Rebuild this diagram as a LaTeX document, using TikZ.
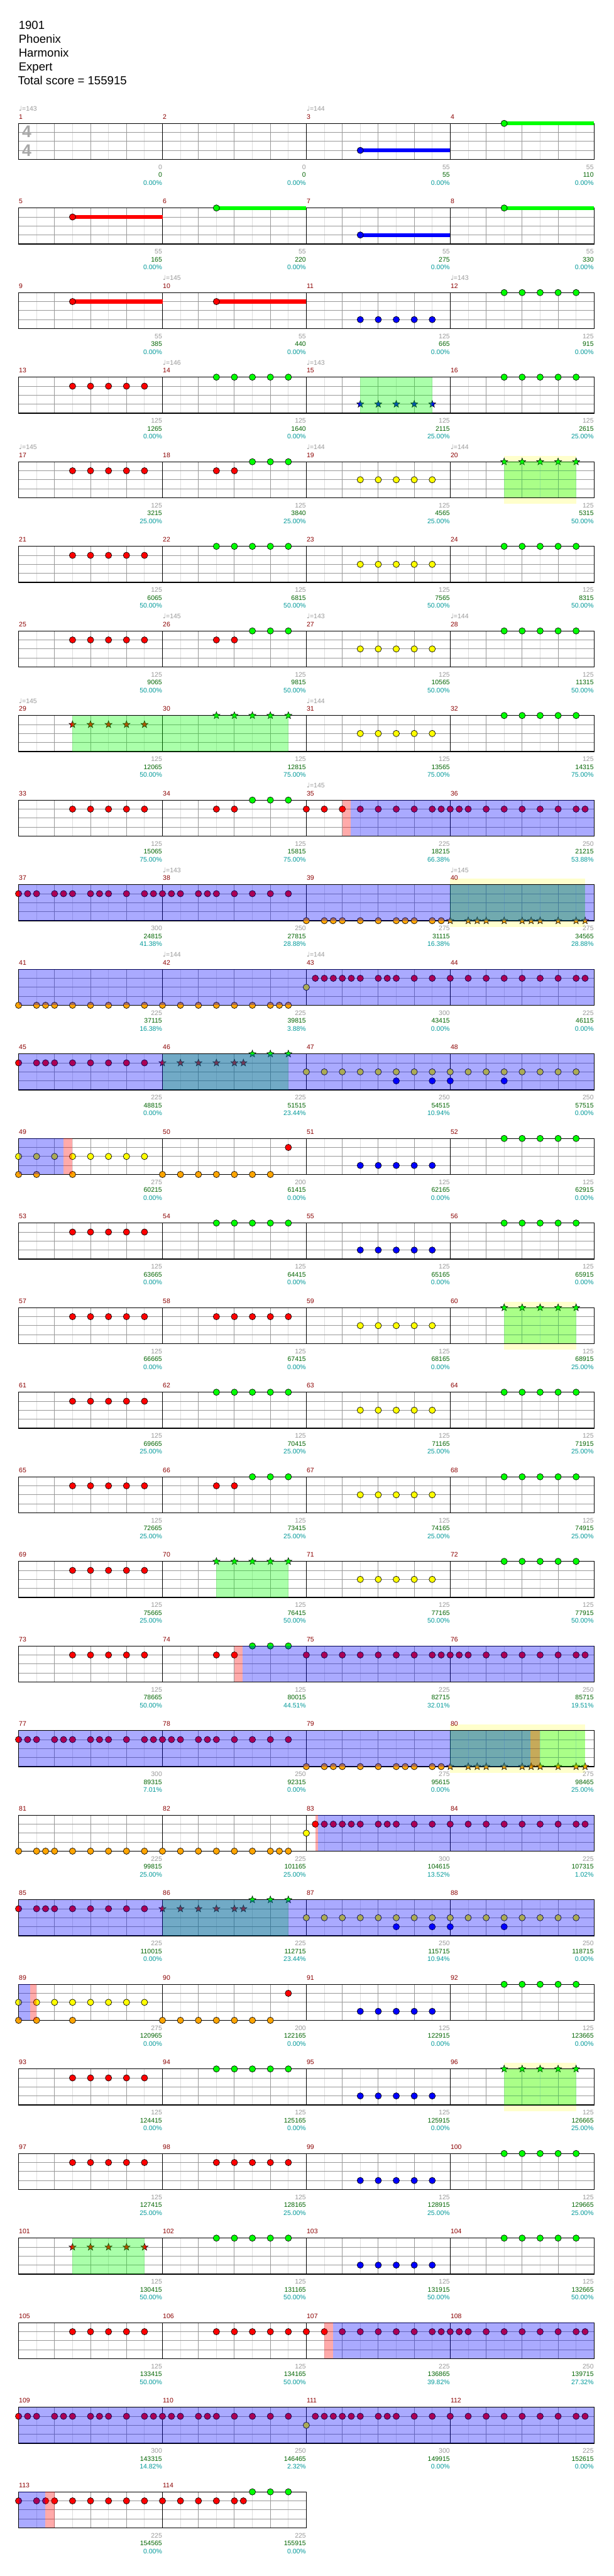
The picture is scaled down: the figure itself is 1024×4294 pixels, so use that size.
\documentclass[tikz,border=0pt]{standalone}
\usepackage{fontspec}
\setmainfont{Liberation Sans}
\newfontfamily\dejavu{DejaVu Sans}
\usetikzlibrary{shapes.geometric}
\definecolor{cG}{HTML}{00FF00}
\definecolor{cR}{HTML}{FF0000}
\definecolor{cY}{HTML}{FFFF00}
\definecolor{cB}{HTML}{0000FF}
\definecolor{cK}{HTML}{FFA500}
\definecolor{mnum}{HTML}{8B0000}
\definecolor{gtxt}{HTML}{999999}
\definecolor{sgreen}{HTML}{006400}
\definecolor{steal}{HTML}{009999}
\definecolor{gridq}{HTML}{999999}
\definecolor{gride}{HTML}{DDDDDD}
\definecolor{ybg}{HTML}{FFFFCC}
\definecolor{tsig}{HTML}{A8A8A8}
\tikzset{
  notec/.style={draw=black,line width=0.7pt},
  starn/.style={star,star points=5,star point ratio=2.4,minimum size=12.5pt,inner sep=0pt,draw=black,line width=0.6pt},
  smalltxt/.style={font=\fontsize{11}{12}\selectfont,inner sep=0pt},
  titletxt/.style={font=\fontsize{19.5}{21}\selectfont,inner sep=0pt,anchor=base west}
}
\newcommand\mPos[1]{%
  \pgfmathtruncatemacro\mRr{(#1-1)/4}%
  \pgfmathtruncatemacro\mCc{#1-1-4*\mRr}%
  \pgfmathsetmacro\mX{31+240*\mCc}%
  \pgfmathsetmacro\mY{205.7+141*\mRr}}
\newcommand\Nts[4]{\mPos{#1}\edef\ntsL{#4}%
  \foreach \p in \ntsL {\draw[notec,fill=#3] (\mX+15*\p,\mY+#2) circle[radius=5.3pt];}}
\newcommand\Sts[4]{\mPos{#1}\edef\ntsL{#4}%
  \foreach \p in \ntsL {\node[starn,fill=#3] at (\mX+15*\p,\mY+#2) {};}}
\newcommand\Sus[4]{\mPos{#1}%
  \fill[#3] (\mX+15*#4,\mY+#2-3.2) rectangle (\mX+240,\mY+#2+3.2);
  \draw[notec,fill=#3] (\mX+15*#4,\mY+#2) circle[radius=5.3pt];}
\newcommand\Reg[4]{\mPos{#2}\fill[#1,fill opacity=0.3333] (\mX+15*#3,\mY) rectangle (\mX+15*#4,\mY+60);}
\newcommand\Ybox[3]{\mPos{#1}\fill[ybg] (\mX+15*#2,\mY-10) rectangle (\mX+15*#3,\mY+70.5);}
\newcommand\StaffRow[2]{%
  \pgfmathsetmacro\sY{205.7+141*#1}%
  \pgfmathtruncatemacro\nK{8*#2-1}%
  \pgfmathsetmacro\xE{31+240*#2}%
  \foreach \k in {1,3,...,\nK}{\draw[gride,line width=1pt] (31+30*\k,\sY) -- (31+30*\k,\sY+60);}
  \foreach \yy in {15,30,45}{\draw[gridq,line width=1pt] (31,\sY+\yy) -- (\xE,\sY+\yy);}
  \foreach \k in {2,4,...,\nK}{\pgfmathtruncatemacro\km{mod(\k,8)}%
    \ifnum\km=0 \draw[black,line width=1pt] (31+30*\k,\sY) -- (31+30*\k,\sY+60);%
    \else \draw[gridq,line width=1pt] (31+30*\k,\sY) -- (31+30*\k,\sY+60);\fi}
  \draw[black,line width=1.2pt] (31,\sY) rectangle (\xE,\sY+60);}
\newcommand\Scr[4]{\mPos{#1}%
  \node[smalltxt,text=gtxt,anchor=east] at (\mX+239.5,\mY+73) {#2};
  \node[smalltxt,text=sgreen,anchor=east] at (\mX+239.5,\mY+86) {#3};
  \node[smalltxt,text=steal,anchor=east] at (\mX+239.5,\mY+99) {#4\%};}
\newcommand\Tempo[2]{\mPos{#1}%
  \node[smalltxt,text=gtxt,anchor=west] at (\mX+0.5,\mY-24.5) {{\dejavu ♩}=#2};}
\def\V{6,8,10,12,14}
\def\pA{0,1,2,4,5,6,8,9,10,12,14,15}
\def\pB{0,1,2,4,5,6,8,10,12,14}
\def\pC{0,2,3,4,6,8,10,11,12,14,15}
\def\pD{0,2,3,4,6,8,9,10,12,14,15}
\def\pE{0,2,3,4,6,8,10,12,14}
\def\pF{0,2,4,6,8,10,12,13,14}
\def\pG{1,2,3,4,5,6,8,9,10,12,14}
\def\pH{0,2,4,6,8,10,12,14,15}
\def\pI{0,1,2,4,6,8,10,12,14,15}
\def\pY{0,2,4,6,8,10,12,14}
\begin{document}
\begin{tikzpicture}[x=1pt,y=-1pt]
\useasboundingbox (0,0) rectangle (1024,4294);
\fill[white] (0,0) rectangle (1024,4294);
% title
\node[titletxt] (t1) at (31,49) {1901};
\node[titletxt] (t2) at (31,72) {Phoenix};
\node[titletxt] (t3) at (31,95) {Harmonix};
\node[titletxt] (t4) at (31,118) {Expert};
\node[titletxt] (t5) at (29.7,141) {Total score = 155915};
% solo boxes
\Ybox{20}{6}{14} \Ybox{40}{0}{15} \Ybox{60}{6}{14} \Ybox{80}{0}{15} \Ybox{96}{6}{14}
% staves
\foreach \r in {0,...,27}{\StaffRow{\r}{4}}
\StaffRow{28}{2}
% time signature
\node[font=\bfseries\fontsize{28}{28}\selectfont,text=tsig,inner sep=0pt] (ts1) at (44.5,219.7) {4};
\node[font=\bfseries\fontsize{28}{28}\selectfont,text=tsig,inner sep=0pt] (ts2) at (44.5,250.5) {4};
% sustains
\Sus{3}{45}{cB}{6} \Sus{4}{0}{cG}{6} \Sus{5}{15}{cR}{6} \Sus{6}{0}{cG}{6}
\Sus{7}{45}{cB}{6} \Sus{8}{0}{cG}{6} \Sus{9}{15}{cR}{6} \Sus{10}{15}{cR}{6}
% notes
\Nts{11}{45}{cB}{\V} \Nts{12}{0}{cG}{\V}
\Nts{13}{15}{cR}{\V} \Nts{14}{0}{cG}{\V} \Sts{15}{45}{cB}{\V} \Nts{16}{0}{cG}{\V}
\Nts{17}{15}{cR}{\V} \Nts{18}{15}{cR}{6,8} \Nts{18}{0}{cG}{10,12,14} \Nts{19}{30}{cY}{\V} \Sts{20}{0}{cG}{\V}
\Nts{21}{15}{cR}{\V} \Nts{22}{0}{cG}{\V} \Nts{23}{30}{cY}{\V} \Nts{24}{0}{cG}{\V}
\Nts{25}{15}{cR}{\V} \Nts{26}{15}{cR}{6,8} \Nts{26}{0}{cG}{10,12,14} \Nts{27}{30}{cY}{\V} \Nts{28}{0}{cG}{\V}
\Sts{29}{15}{cR}{\V} \Sts{30}{0}{cG}{\V} \Nts{31}{30}{cY}{\V} \Nts{32}{0}{cG}{\V}
\Nts{33}{15}{cR}{\V} \Nts{34}{15}{cR}{6,8} \Nts{34}{0}{cG}{10,12,14} \Nts{35}{15}{cR}{\pH} \Nts{36}{15}{cR}{\pI}
\Nts{37}{15}{cR}{\pA} \Nts{38}{15}{cR}{\pB} \Nts{39}{60}{cK}{\pC} \Sts{40}{60}{cK}{\pD}
\Nts{41}{60}{cK}{\pE} \Nts{42}{60}{cK}{\pF} \Nts{43}{30}{cY}{0} \Nts{43}{15}{cR}{\pG} \Nts{44}{15}{cR}{\pH}
\Nts{45}{15}{cR}{\pE} \Sts{46}{15}{cR}{0,2,4,6,8,9} \Sts{46}{0}{cG}{10,12,14}
\Nts{47}{30}{cY}{\pY} \Nts{47}{45}{cB}{10,14} \Nts{48}{30}{cY}{\pY} \Nts{48}{45}{cB}{0,6}
\Nts{49}{30}{cY}{\pY} \Nts{49}{60}{cK}{0,2,6} \Nts{50}{60}{cK}{0,2,4,6,8,10,12} \Nts{50}{15}{cR}{14} \Nts{51}{45}{cB}{\V} \Nts{52}{0}{cG}{\V}
\Nts{53}{15}{cR}{\V} \Nts{54}{0}{cG}{\V} \Nts{55}{45}{cB}{\V} \Nts{56}{0}{cG}{\V}
\Nts{57}{15}{cR}{\V} \Nts{58}{15}{cR}{\V} \Nts{59}{30}{cY}{\V} \Sts{60}{0}{cG}{\V}
\Nts{61}{15}{cR}{\V} \Nts{62}{0}{cG}{\V} \Nts{63}{30}{cY}{\V} \Nts{64}{0}{cG}{\V}
\Nts{65}{15}{cR}{\V} \Nts{66}{15}{cR}{6,8} \Nts{66}{0}{cG}{10,12,14} \Nts{67}{30}{cY}{\V} \Nts{68}{0}{cG}{\V}
\Nts{69}{15}{cR}{\V} \Sts{70}{0}{cG}{\V} \Nts{71}{30}{cY}{\V} \Nts{72}{0}{cG}{\V}
\Nts{73}{15}{cR}{\V} \Nts{74}{15}{cR}{6,8} \Nts{74}{0}{cG}{10,12,14} \Nts{75}{15}{cR}{\pH} \Nts{76}{15}{cR}{\pI}
\Nts{77}{15}{cR}{\pA} \Nts{78}{15}{cR}{\pB} \Nts{79}{60}{cK}{\pC} \Sts{80}{60}{cK}{\pD}
\Nts{81}{60}{cK}{\pE} \Nts{82}{60}{cK}{\pF} \Nts{83}{30}{cY}{0} \Nts{83}{15}{cR}{\pG} \Nts{84}{15}{cR}{\pH}
\Nts{85}{15}{cR}{\pE} \Sts{86}{15}{cR}{0,2,4,6,8,9} \Sts{86}{0}{cG}{10,12,14}
\Nts{87}{30}{cY}{\pY} \Nts{87}{45}{cB}{10,14} \Nts{88}{30}{cY}{\pY} \Nts{88}{45}{cB}{0,6}
\Nts{89}{30}{cY}{\pY} \Nts{89}{60}{cK}{0,2,6} \Nts{90}{60}{cK}{0,2,4,6,8,10,12} \Nts{90}{15}{cR}{14} \Nts{91}{45}{cB}{\V} \Nts{92}{0}{cG}{\V}
\Nts{93}{15}{cR}{\V} \Nts{94}{0}{cG}{\V} \Nts{95}{45}{cB}{\V} \Sts{96}{0}{cG}{\V}
\Nts{97}{15}{cR}{\V} \Nts{98}{15}{cR}{\V} \Nts{99}{45}{cB}{\V} \Nts{100}{0}{cG}{\V}
\Sts{101}{15}{cR}{\V} \Nts{102}{0}{cG}{\V} \Nts{103}{45}{cB}{\V} \Nts{104}{0}{cG}{\V}
\Nts{105}{15}{cR}{\V} \Nts{106}{15}{cR}{\V} \Nts{107}{15}{cR}{\pH} \Nts{108}{15}{cR}{\pI}
\Nts{109}{15}{cR}{\pA} \Nts{110}{15}{cR}{\pB} \Nts{111}{30}{cY}{0} \Nts{111}{15}{cR}{\pG} \Nts{112}{15}{cR}{\pH}
\Nts{113}{15}{cR}{\pE} \Nts{114}{15}{cR}{0,2,4,6,8,9} \Nts{114}{0}{cG}{10,12,14}
% overdrive phrases
\Reg{cG}{15}{6}{14} \Reg{cG}{20}{6}{14} \Reg{cG}{29}{6}{30} \Reg{cG}{40}{0}{15} \Reg{cG}{46}{0}{14}
\Reg{cG}{60}{6}{14} \Reg{cG}{70}{6}{14} \Reg{cG}{80}{0}{15} \Reg{cG}{86}{0}{14} \Reg{cG}{96}{6}{14} \Reg{cG}{101}{6}{14}
% activations
\Reg{cB}{35}{4.9}{32} \Reg{cB}{37}{0}{64} \Reg{cB}{41}{0}{64} \Reg{cB}{45}{0}{64} \Reg{cB}{49}{0}{5}
\Reg{cB}{74}{8.93}{48} \Reg{cB}{77}{0}{56.93} \Reg{cB}{83}{1.3}{32} \Reg{cB}{85}{0}{64} \Reg{cB}{89}{0}{1.3}
\Reg{cB}{107}{2.95}{32} \Reg{cB}{109}{0}{64} \Reg{cB}{113}{0}{3}
\Reg{cR}{35}{4}{4.9} \Reg{cR}{49}{5}{6} \Reg{cR}{74}{8}{8.93} \Reg{cR}{80}{8.93}{10}
\Reg{cR}{83}{1}{1.3} \Reg{cR}{89}{1.3}{2} \Reg{cR}{107}{2}{2.95} \Reg{cR}{113}{3}{4}
% measure numbers
\foreach \m in {1,...,114}{\mPos{\m}\node[smalltxt,text=mnum,anchor=west] at (\mX+0.5,\mY-11) {\m};}
% tempos
\foreach \m/\t in {1/143,3/144,10/145,12/143,14/146,15/143,17/145,19/144,20/144,26/145,27/143,28/144,29/145,31/144,35/145,38/143,40/145,42/144,43/144}{\Tempo{\m}{\t}}
% scores
\foreach \m/\a/\b/\c in {1/0/0/0.00,2/0/0/0.00,3/55/55/0.00,4/55/110/0.00,
5/55/165/0.00,6/55/220/0.00,7/55/275/0.00,8/55/330/0.00,
9/55/385/0.00,10/55/440/0.00,11/125/665/0.00,12/125/915/0.00,
13/125/1265/0.00,14/125/1640/0.00,15/125/2115/25.00,16/125/2615/25.00,
17/125/3215/25.00,18/125/3840/25.00,19/125/4565/25.00,20/125/5315/50.00,
21/125/6065/50.00,22/125/6815/50.00,23/125/7565/50.00,24/125/8315/50.00,
25/125/9065/50.00,26/125/9815/50.00,27/125/10565/50.00,28/125/11315/50.00,
29/125/12065/50.00,30/125/12815/75.00,31/125/13565/75.00,32/125/14315/75.00,
33/125/15065/75.00,34/125/15815/75.00,35/225/18215/66.38,36/250/21215/53.88,
37/300/24815/41.38,38/250/27815/28.88,39/275/31115/16.38,40/275/34565/28.88,
41/225/37115/16.38,42/225/39815/3.88,43/300/43415/0.00,44/225/46115/0.00,
45/225/48815/0.00,46/225/51515/23.44,47/250/54515/10.94,48/250/57515/0.00,
49/275/60215/0.00,50/200/61415/0.00,51/125/62165/0.00,52/125/62915/0.00,
53/125/63665/0.00,54/125/64415/0.00,55/125/65165/0.00,56/125/65915/0.00,
57/125/66665/0.00,58/125/67415/0.00,59/125/68165/0.00,60/125/68915/25.00,
61/125/69665/25.00,62/125/70415/25.00,63/125/71165/25.00,64/125/71915/25.00,
65/125/72665/25.00,66/125/73415/25.00,67/125/74165/25.00,68/125/74915/25.00,
69/125/75665/25.00,70/125/76415/50.00,71/125/77165/50.00,72/125/77915/50.00,
73/125/78665/50.00,74/125/80015/44.51,75/225/82715/32.01,76/250/85715/19.51,
77/300/89315/7.01,78/250/92315/0.00,79/275/95615/0.00,80/275/98465/25.00,
81/225/99815/25.00,82/225/101165/25.00,83/300/104615/13.52,84/225/107315/1.02,
85/225/110015/0.00,86/225/112715/23.44,87/250/115715/10.94,88/250/118715/0.00,
89/275/120965/0.00,90/200/122165/0.00,91/125/122915/0.00,92/125/123665/0.00,
93/125/124415/0.00,94/125/125165/0.00,95/125/125915/0.00,96/125/126665/25.00,
97/125/127415/25.00,98/125/128165/25.00,99/125/128915/25.00,100/125/129665/25.00,
101/125/130415/50.00,102/125/131165/50.00,103/125/131915/50.00,104/125/132665/50.00,
105/125/133415/50.00,106/125/134165/50.00,107/225/136865/39.82,108/250/139715/27.32,
109/300/143315/14.82,110/250/146465/2.32,111/300/149915/0.00,112/225/152615/0.00,
113/225/154565/0.00,114/225/155915/0.00}{\Scr{\m}{\a}{\b}{\c}}
\end{tikzpicture}
\end{document}
